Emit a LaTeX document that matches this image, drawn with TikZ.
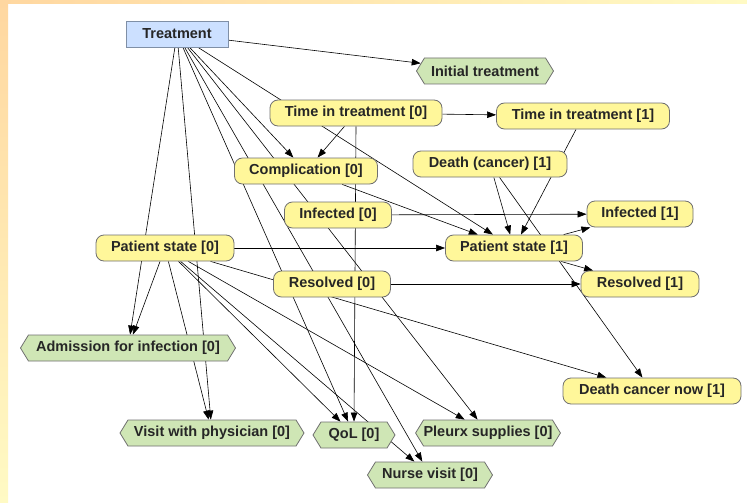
\documentclass[tikz,border=0pt]{standalone}
\usepackage{fontspec}
\setmainfont{Liberation Sans}
\usetikzlibrary{arrows.meta,shapes.symbols}
\pgfdeclarelayer{back}
\pgfdeclarelayer{edges}
\pgfsetlayers{back,edges,main}

\definecolor{chanceyellow}{HTML}{FFF79A}
\definecolor{utilgreen}{HTML}{CFE6B5}
\definecolor{decblue}{HTML}{CCE0FF}
\definecolor{nodeline}{HTML}{707070}
\definecolor{decline}{HTML}{7F8FA6}
\definecolor{framewarm}{HTML}{FFD7A0}
\definecolor{framelight}{HTML}{FFFAC4}

\begin{document}
\begin{tikzpicture}[x=1pt,y=-1pt,
  font=\bfseries\fontsize{14.5}{16}\selectfont,
  chance/.style={rectangle, rounded corners=8pt, draw=nodeline, fill=chanceyellow,
    line width=0.8pt, minimum height=26pt, inner sep=0pt, text=black!85},
  utility/.style={signal, signal to=east and west, signal pointer angle=117,
    draw=nodeline, fill=utilgreen, line width=0.8pt, minimum height=26pt,
    inner sep=0pt, text=black!85},
  decision/.style={rectangle, draw=decline, fill=decblue, line width=0.8pt,
    minimum height=26pt, inner sep=0pt, text=black!85},
  link/.style={-{Triangle[length=9pt,width=6.5pt]}, line width=0.6pt, black}]

% frame and page
\begin{pgfonlayer}{back}
  \fill[white] (0,0) rectangle (747,503);
  \shade[top color=framewarm, bottom color=framelight] (0,0) rectangle (8,503);
  \shade[left color=framewarm, right color=framelight] (0,0) rectangle (747,4);
\end{pgfonlayer}
\useasboundingbox (0,0) rectangle (747,503);

% decision node
\node[decision, minimum width=102pt] (treat) at (177,34) {Treatment};

% chance nodes
\node[chance, minimum width=172pt] (time0) at (356,113) {Time in treatment [0]};
\node[chance, minimum width=173pt] (time1) at (583,116) {Time in treatment [1]};
\node[chance, minimum width=143pt] (comp0) at (306,171) {Complication [0]};
\node[chance, minimum width=154pt] (death1) at (490,164) {Death (cancer) [1]};
\node[chance, minimum width=107pt] (inf0) at (338,215) {Infected [0]};
\node[chance, minimum width=106pt] (inf1) at (640,214) {Infected [1]};
\node[chance, minimum width=138pt] (ps0) at (165,248) {Patient state [0]};
\node[chance, minimum width=137pt] (ps1) at (514,248) {Patient state [1]};
\node[chance, minimum width=117pt] (res0) at (332,284) {Resolved [0]};
\node[chance, minimum width=118pt] (res1) at (640,284) {Resolved [1]};
\node[chance, minimum width=178pt] (dcn1) at (652,391) {Death cancer now [1]};

% utility nodes
\node[utility, minimum width=137pt] (init) at (485,71) {Initial treatment};
\node[utility, minimum width=215pt] (adm0) at (128,348) {Admission for infection [0]};
\node[utility, minimum width=184pt] (visit0) at (212,433) {Visit with physician [0]};
\node[utility, minimum width=82pt] (qol0) at (354,435) {QoL [0]};
\node[utility, minimum width=144pt] (pleurx0) at (488,433) {Pleurx supplies [0]};
\node[utility, minimum width=125pt] (nurse0) at (430,475) {Nurse visit [0]};

% arcs, drawn behind the nodes
\begin{pgfonlayer}{edges}
  \draw[link] (treat) -- (init);
  \draw[link] (treat) -- (ps1);
  \draw[link] (treat) -- (comp0);
  \draw[link] (treat) -- (qol0);
  \draw[link] (treat) -- (nurse0);
  \draw[link] (treat) -- (pleurx0);
  \draw[link] (treat) -- (adm0);
  \draw[link] (treat) -- (visit0);

  \draw[link] (time0) -- (time1);
  \draw[link] (time0) -- (comp0);
  \draw[link] (time0.south) -- (qol0.north);
  \draw[link] (time1) -- (ps1);

  \draw[link] (comp0) -- (ps1);
  \draw[link] (death1) -- (ps1);
  \draw[link] (death1) -- (dcn1);

  \draw[link] (inf0) -- (inf1);
  \draw[link] (res0) -- (res1);

  \draw[link] (ps0) -- (ps1);
  \draw[link] (ps0) -- (adm0);
  \draw[link] (ps0) -- (visit0);
  \draw[link] (ps0) -- (qol0);
  \draw[link] (ps0) -- (nurse0);
  \draw[link] (ps0) -- (pleurx0);
  \draw[link] (ps0) -- (dcn1);

  \draw[link] (ps1) -- (inf1);
  \draw[link] (ps1) -- (res1);
\end{pgfonlayer}
\end{tikzpicture}
\end{document}
